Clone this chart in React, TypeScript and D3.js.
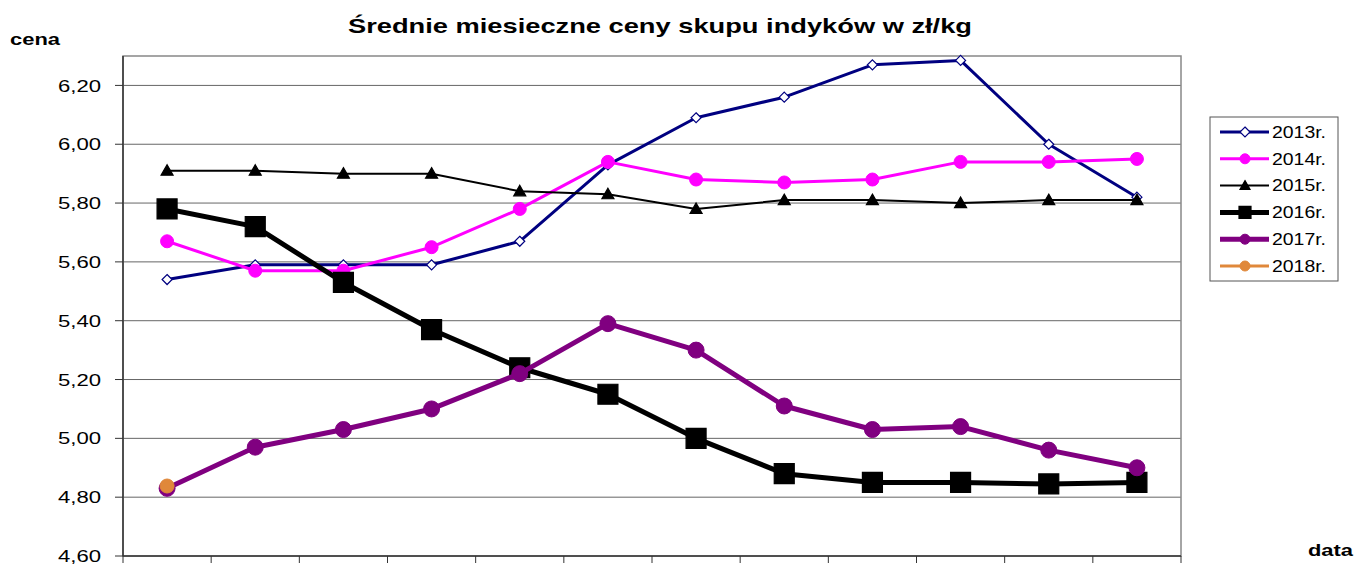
import React from 'react';
import * as d3 from 'd3';

const months = ['I', 'II', 'III', 'IV', 'V', 'VI', 'VII', 'VIII', 'IX', 'X', 'XI', 'XII'];
const yTicks = [4.6, 4.8, 5.0, 5.2, 5.4, 5.6, 5.8, 6.0, 6.2];

const s2013 = [5.54, 5.59, 5.59, 5.59, 5.67, 5.93, 6.09, 6.16, 6.27, 6.285, 6.0, 5.82];
const s2014 = [5.67, 5.57, 5.57, 5.65, 5.78, 5.94, 5.88, 5.87, 5.88, 5.94, 5.94, 5.95];
const s2015 = [5.91, 5.91, 5.9, 5.9, 5.84, 5.83, 5.78, 5.81, 5.81, 5.8, 5.81, 5.81];
const s2016 = [5.78, 5.72, 5.53, 5.37, 5.24, 5.15, 5.0, 4.88, 4.85, 4.85, 4.845, 4.85];
const s2017 = [4.83, 4.97, 5.03, 5.1, 5.22, 5.39, 5.3, 5.11, 5.03, 5.04, 4.96, 4.9];
const s2018 = [4.838];

type Marker = 'diamond' | 'circle' | 'triangle' | 'square';
interface Series {
  name: string;
  values: number[];
  color: string;
  width: number;
  marker: Marker;
  size: number;
  fill: string;
}

const series: Series[] = [
  { name: '2013r.', values: s2013, color: '#000080', width: 3, marker: 'diamond', size: 5, fill: '#fff' },
  { name: '2014r.', values: s2014, color: '#ff00ff', width: 3, marker: 'circle', size: 6.5, fill: '#ff00ff' },
  { name: '2015r.', values: s2015, color: '#000000', width: 2, marker: 'triangle', size: 6, fill: '#000' },
  { name: '2016r.', values: s2016, color: '#000000', width: 5, marker: 'square', size: 10, fill: '#000' },
  { name: '2017r.', values: s2017, color: '#800080', width: 5, marker: 'circle', size: 8, fill: '#800080' },
  { name: '2018r.', values: s2018, color: '#e0883a', width: 3, marker: 'circle', size: 7, fill: '#e0883a' },
];

const W = 1355;
const H = 566;
const left = 123;
const right = 1181;
const top = 56;
const bottom = 556;

const x = d3.scaleBand<string>().domain(months).range([left, right]);
const y = d3.scaleLinear().domain([4.6, 6.3]).range([bottom, top]);
const fmt = (v: number) => v.toFixed(2).replace('.', ',');

function markerPath(m: Marker, s: number, cx: number, cy: number) {
  if (m === 'diamond') return `M${cx},${cy - s}L${cx + s},${cy}L${cx},${cy + s}L${cx - s},${cy}Z`;
  if (m === 'triangle') return `M${cx},${cy - s}L${cx + s},${cy + s * 0.75}L${cx - s},${cy + s * 0.75}Z`;
  if (m === 'square') return `M${cx - s},${cy - s}h${2 * s}v${2 * s}h${-2 * s}Z`;
  return '';
}

function MarkerShape({ s, cx, cy }: { s: Series; cx: number; cy: number }) {
  if (s.marker === 'circle') {
    return <circle cx={cx} cy={cy} r={s.size} fill={s.fill} stroke={s.color} strokeWidth={1} />;
  }
  return <path d={markerPath(s.marker, s.size, cx, cy)} fill={s.fill} stroke={s.color} strokeWidth={1.2} />;
}

export default function App() {
  const cx = (i: number) => (x(months[i]) as number) + x.bandwidth() / 2;
  const line = d3.line<number>().x((_, i) => cx(i)).y(d => y(d));
  const font = 'Arial, "Liberation Sans", sans-serif';

  return (
    <svg width={W} height={H} style={{ position: 'absolute', left: 0, top: 0, fontFamily: font }}>
      <rect width={W} height={H} fill="#fff" />
      <text x={348} y={33} fontSize={21} fontWeight="bold" textLength={624} lengthAdjust="spacingAndGlyphs">
        Średnie miesieczne ceny skupu indyków w zł/kg
      </text>
      <text x={10} y={45} fontSize={17} fontWeight="bold" textLength={50} lengthAdjust="spacingAndGlyphs">cena</text>
      <text x={1308} y={556} fontSize={17} fontWeight="bold" textLength={45} lengthAdjust="spacingAndGlyphs">data</text>

      {yTicks.slice(1).map(t => (
        <line key={t} x1={left} x2={right} y1={y(t)} y2={y(t)} stroke="#666" strokeWidth={1} />
      ))}
      <rect x={left} y={top} width={right - left} height={bottom - top} fill="none" stroke="#888" strokeWidth={1.5} />
      <line x1={left} x2={left} y1={top} y2={bottom} stroke="#333" strokeWidth={1.5} />
      <line x1={left} x2={right} y1={bottom} y2={bottom} stroke="#333" strokeWidth={1.5} />

      {yTicks.map(t => (
        <g key={t}>
          <line x1={left - 8} x2={left} y1={y(t)} y2={y(t)} stroke="#333" />
          <text x={58} y={y(t)} dy="0.36em" fontSize={17} textLength={43} lengthAdjust="spacingAndGlyphs">{fmt(t)}</text>
        </g>
      ))}
      {months.map(m => (
        <line key={m} x1={x(m)} x2={x(m)} y1={bottom} y2={bottom + 7} stroke="#333" />
      ))}
      <line x1={right} x2={right} y1={bottom} y2={bottom + 7} stroke="#333" />

      {series.map(s => (
        <g key={s.name}>
          <path d={line(s.values) || ''} fill="none" stroke={s.color} strokeWidth={s.width} strokeLinejoin="round" />
          {s.values.map((v, i) => (
            <MarkerShape key={i} s={s} cx={cx(i)} cy={y(v)} />
          ))}
        </g>
      ))}

      <rect x={1210} y={117} width={128} height={164} fill="#fff" stroke="#555" strokeWidth={1} />
      {series.map((s, i) => {
        const ly = 132 + i * 26.8;
        const sc = { ...s, size: Math.min(s.size, s.marker === 'square' ? 6 : 5) };
        return (
          <g key={s.name}>
            <line x1={1220} x2={1269} y1={ly} y2={ly} stroke={s.color} strokeWidth={s.width} />
            <MarkerShape s={sc} cx={1245} cy={ly} />
            <text x={1272} y={ly} dy="0.36em" fontSize={16} textLength={54} lengthAdjust="spacingAndGlyphs">{s.name}</text>
          </g>
        );
      })}
    </svg>
  );
}
